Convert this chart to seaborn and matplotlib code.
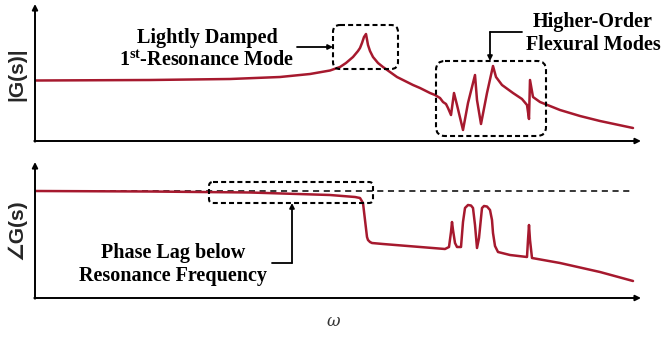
import matplotlib
matplotlib.use("Agg")
import matplotlib.pyplot as plt
from matplotlib.patches import FancyBboxPatch
import pandas as pd
import seaborn as sns

# Frequency axis in relative units (no ticks on the schematic)
omega_mag = [0, 115, 195, 245, 275, 295, 305, 311, 318, 323,
             325, 327, 329, 331, 333, 335, 338, 343, 348, 362,
             378, 385, 395, 400, 405, 408, 411, 413, 416, 419,
             422, 428, 433, 440, 442, 446, 452, 458, 461, 467,
             478, 487, 492, 494, 495, 498, 505, 525, 545, 565,
             598]
# Relative magnitude |G(s)|
mag_rel = [-0.5, 0, 1, 3, 6, 9.5, 13, 17, 23, 29,
           32, 37, 43, 46, 35, 29, 23, 17, 13, 3,
           -5, -8, -13, -15, -18, -22, -24, -28, -35, -13,
           -25, -50, -23, 5, -20, -44, -13, 14, 3, -5,
           -13, -19, -25, -39, 0, -17, -22, -30, -36, -41,
           -48]

omega_phase = [0, 115, 215, 295, 320, 325, 328, 330, 332, 333,
               335, 337, 348, 410, 414, 416, 417, 418, 420, 422,
               426, 428, 430, 433, 436, 438, 440, 442, 444, 447,
               449, 452, 455, 457, 458, 460, 463, 475, 492, 493,
               494, 495, 497, 525, 565, 598]
# Relative phase angle of G(s)
phase_rel = [0, -0.5, -1.5, -4, -6, -7, -12, -29, -46, -49,
             -51, -52, -53, -58, -56, -41, -31, -39, -52, -56,
             -56, -31, -17, -14, -14.5, -17, -34, -57, -47, -17,
             -15, -15.5, -19, -29, -42, -55, -61, -64, -66, -49,
             -34, -49, -67, -72, -81, -90]

CURVE = "#A6192E"

sns.set_style("white")
plt.rcParams["font.family"] = ["Liberation Serif", "DejaVu Sans"]
plt.rcParams["mathtext.fontset"] = "custom"
plt.rcParams["mathtext.rm"] = "Liberation Serif:bold"
plt.rcParams["mathtext.bf"] = "Liberation Serif:bold"
plt.rcParams["mathtext.it"] = "Liberation Serif:bold"

W, H = 661, 337
fig = plt.figure(figsize=(W / 100, H / 100), dpi=100)


def px_axes(x0, y0, x1, y1):
    return fig.add_axes([x0 / W, 1 - y1 / H, (x1 - x0) / W, (y1 - y0) / H])


ax_mag = px_axes(35, 5, 640, 141)
ax_ph = px_axes(35, 163, 640, 298)

df_mag = pd.DataFrame({"omega": omega_mag, "mag": mag_rel})
df_ph = pd.DataFrame({"omega": omega_phase, "phase": phase_rel})

sns.lineplot(data=df_mag, x="omega", y="mag", ax=ax_mag, color=CURVE, lw=1.8)
sns.lineplot(data=df_ph, x="omega", y="phase", ax=ax_ph, color=CURVE, lw=1.8,
             zorder=3)
ax_ph.hlines(0, omega_phase[0], omega_phase[-1], color="black", lw=1.1,
             linestyles=[(0, (4, 3))], zorder=2)

ax_mag.set_ylim(-61, 75)
ax_ph.set_ylim(-107, 28)
for ax in (ax_mag, ax_ph):
    ax.set_xlim(0, 605)
    ax.set_xlabel("")
    ax.set_ylabel("")
    ax.set_xticks([])
    ax.set_yticks([])
    for s in ax.spines.values():
        s.set_visible(False)
    ax.patch.set_alpha(0)

# Overlay in pixel coordinates for axes arrows and callouts
ov = fig.add_axes([0, 0, 1, 1])
ov.set_xlim(0, W)
ov.set_ylim(H, 0)
ov.axis("off")
ov.patch.set_alpha(0)

axis_arrow = dict(arrowstyle="-|>", lw=1.4, color="black", mutation_scale=8,
                  shrinkA=0, shrinkB=0)
for ybot, ytop in ((141, 4), (298, 162)):
    ov.annotate("", xy=(35, ytop), xytext=(35, ybot + 0.7), arrowprops=axis_arrow)
    ov.annotate("", xy=(641, ybot), xytext=(34.3, ybot), arrowprops=axis_arrow)

# Axis labels
ov.text(17, 74, "|G(s)|", rotation=90, family=["Liberation Sans", "DejaVu Sans"],
        weight="bold", size=15, ha="center", va="center")
ov.text(17, 230, "\u2220G(s)", rotation=90, family=["Liberation Sans", "DejaVu Sans"],
        weight="bold", size=15, ha="center", va="center")
ov.text(333, 322, "\u03c9", style="italic", family=["DejaVu Serif"],
        size=12, color="#333333", ha="center", va="center")

# Dashed callout boxes
box_kw = dict(fill=False, ec="black", lw=1.5, linestyle=(0, (2.4, 1.5)))
for x0, y0, x1, y1, r in ((333, 25, 398, 69, 7),
                          (436, 61, 546, 136, 9),
                          (209, 182, 373, 203, 4)):
    ov.add_patch(FancyBboxPatch((x0, y0), x1 - x0, y1 - y0,
                                boxstyle=f"round,pad=0,rounding_size={r}", **box_kw))

# Callout leaders
lead = dict(arrowstyle="-|>", lw=1.3, color="black", mutation_scale=7,
            shrinkA=0, shrinkB=0)
ov.annotate("", xy=(333, 47), xytext=(297, 47), arrowprops=lead)
ov.plot([522, 490], [32, 32], color="black", lw=1.3)
ov.annotate("", xy=(490, 61), xytext=(490, 32), arrowprops=lead)
ov.plot([272, 292], [263, 263], color="black", lw=1.3)
ov.annotate("", xy=(292, 203), xytext=(292, 263), arrowprops=lead)

txt = dict(weight="bold", size=14.5, ha="center", va="baseline", color="black")
ov.text(207, 43, "Lightly Damped", **txt)
ov.text(206, 66, r"1$^{\mathrm{st}}$-Resonance Mode", **txt)
ov.text(593, 27, "Higher-Order", **txt)
ov.text(593, 50, "Flexural Modes", **txt)
ov.text(173, 258, "Phase Lag below", **txt)
ov.text(173, 281, "Resonance Frequency", **txt)

fig.savefig("out.png", dpi=100)
